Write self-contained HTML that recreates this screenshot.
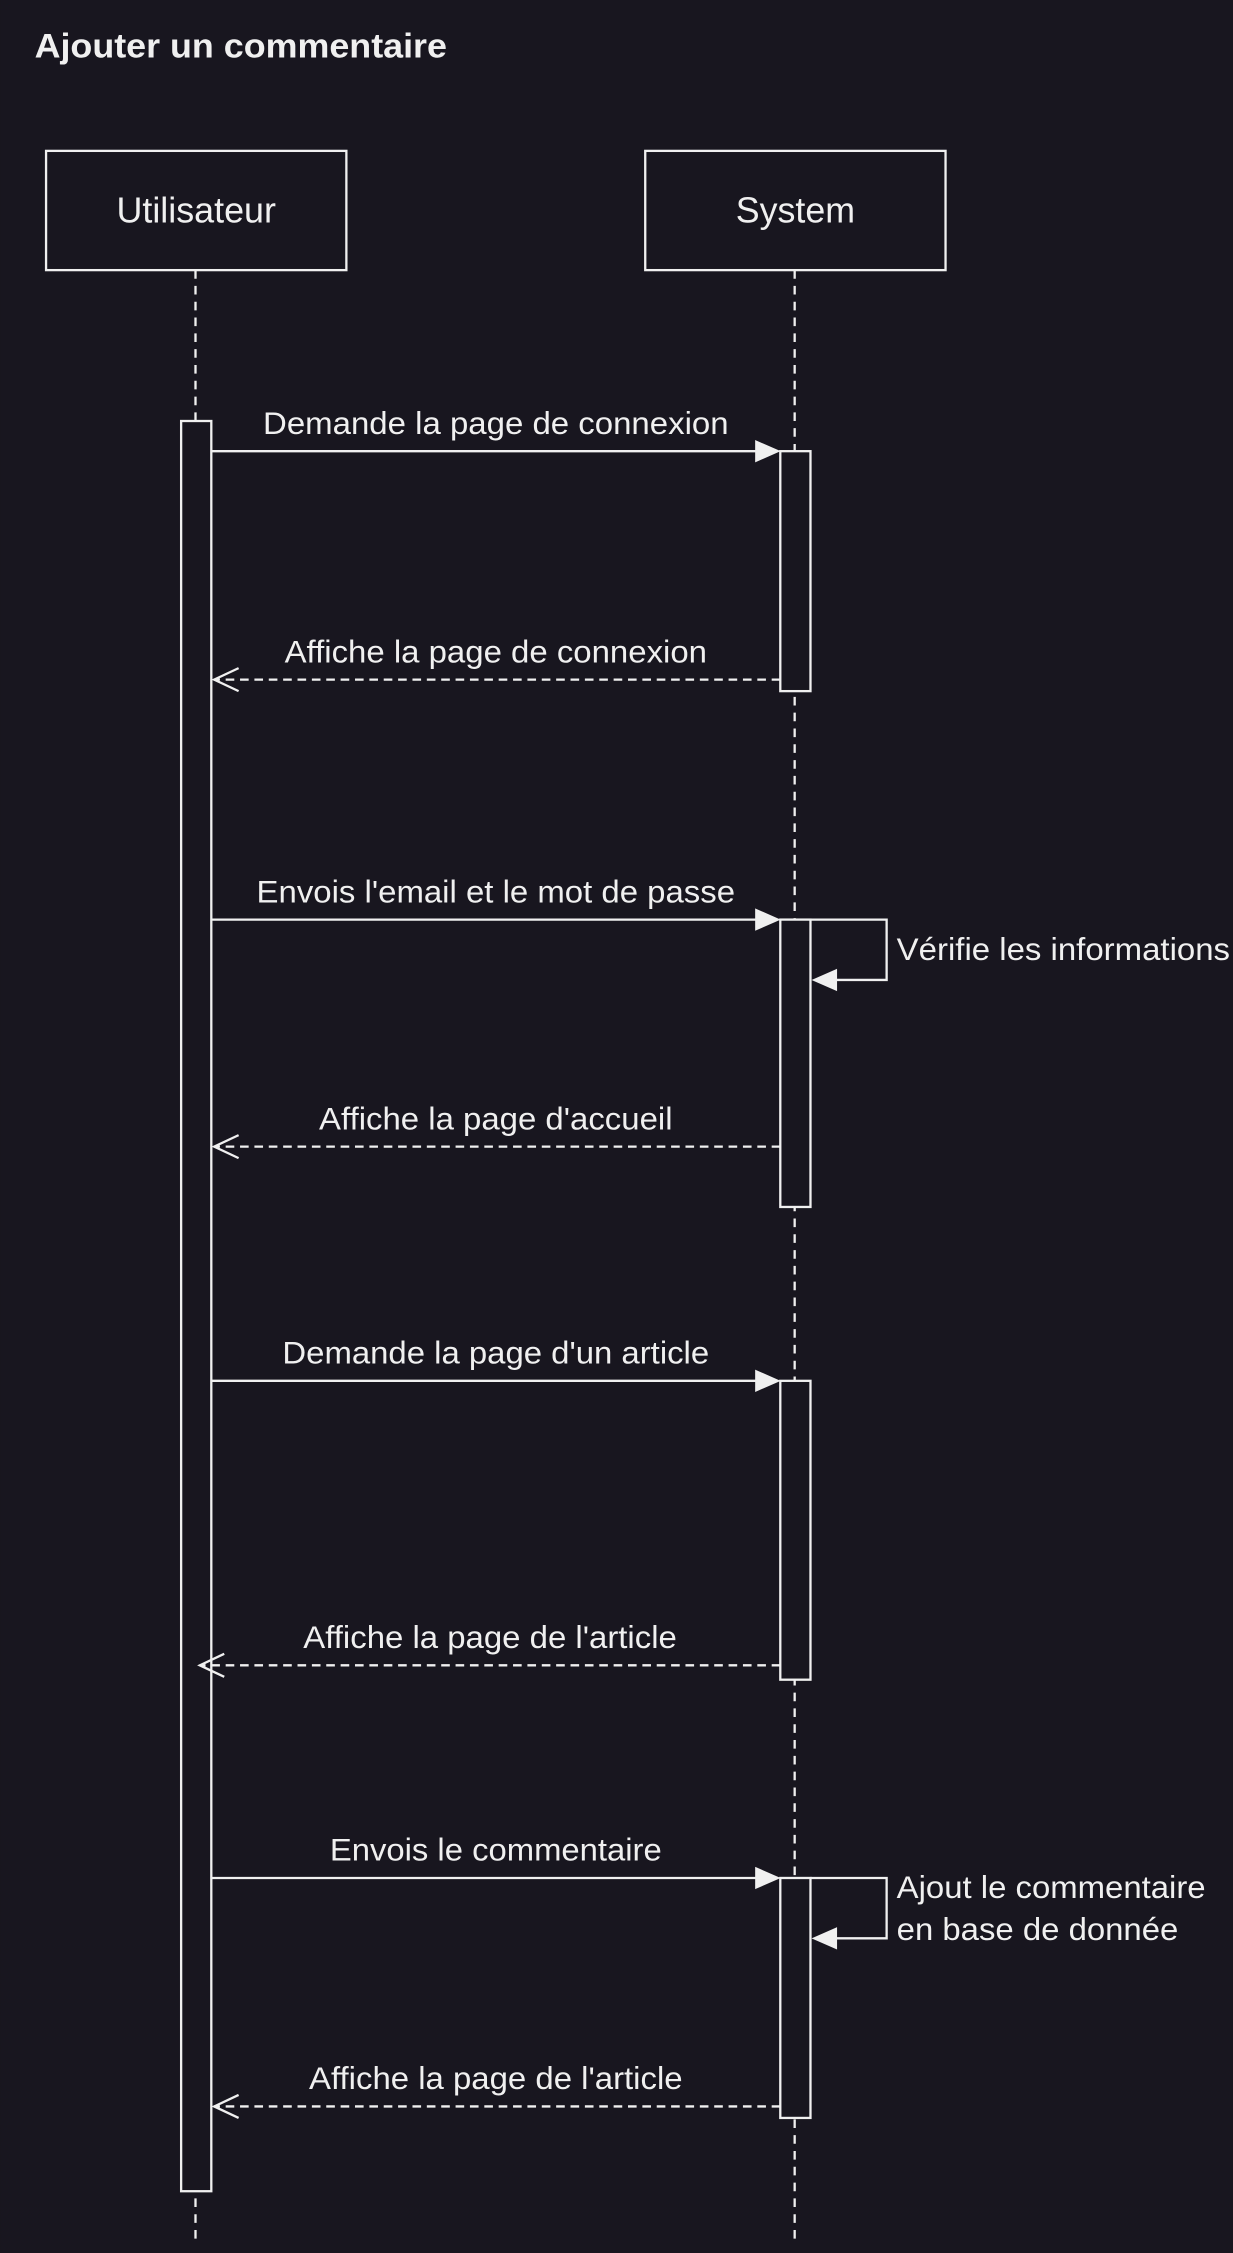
<!DOCTYPE html>
<html><head><meta charset="utf-8"><style>
html,body{margin:0;padding:0;background:#18161f;}
svg{display:block;}
text{font-family:"Liberation Sans",Arial,sans-serif;fill:#f0f0f0;}
</style></head><body>
<svg width="1233" height="2253" viewBox="0 0 858 1568" xmlns="http://www.w3.org/2000/svg">
<rect width="858" height="1568" fill="#18161f"/>
<text x="24" y="40" font-size="24" font-weight="bold" textLength="287" lengthAdjust="spacingAndGlyphs">Ajouter un commentaire</text>
<g stroke="#f0f0f0" stroke-width="1.6" fill="#18161f">
<rect x="32" y="105" width="209" height="83"/>
<rect x="449" y="105" width="209" height="83"/>
<line x1="136" y1="188" x2="136" y2="1562" stroke-dasharray="6 5"/>
<line x1="553" y1="188" x2="553" y2="1562" stroke-dasharray="6 5"/>
<rect x="126" y="293" width="21" height="1232"/>
<rect x="543" y="314" width="21" height="167"/>
<rect x="543" y="640" width="21" height="200"/>
<rect x="543" y="961" width="21" height="208"/>
<rect x="543" y="1307" width="21" height="167"/>
<line x1="147" y1="314" x2="528" y2="314"/>
<line x1="147" y1="640" x2="528" y2="640"/>
<line x1="147" y1="961" x2="528" y2="961"/>
<line x1="147" y1="1307" x2="528" y2="1307"/>
<line x1="543" y1="473" x2="149" y2="473" stroke-dasharray="6 4"/>
<line x1="543" y1="798" x2="149" y2="798" stroke-dasharray="6 4"/>
<line x1="543" y1="1159" x2="139" y2="1159" stroke-dasharray="6 4"/>
<line x1="543" y1="1466" x2="149" y2="1466" stroke-dasharray="6 4"/>
<polyline points="564,640 617,640 617,682 580,682" fill="none"/>
<polyline points="564,1307 617,1307 617,1349 580,1349" fill="none"/>
<polyline points="166,465 149,473 166,481" fill="none"/>
<polyline points="166,790 149,798 166,806" fill="none"/>
<polyline points="156,1151 139,1159 156,1167" fill="none"/>
<polyline points="166,1458 149,1466 166,1474" fill="none"/>
</g>
<g fill="#f0f0f0" stroke="#f0f0f0" stroke-width="1">
<polygon points="526,307 542,314 526,321"/>
<polygon points="526,633 542,640 526,647"/>
<polygon points="526,954 542,961 526,968"/>
<polygon points="526,1300 542,1307 526,1314"/>
<polygon points="582,675 566,682 582,689"/>
<polygon points="582,1342 566,1349 582,1356"/>
</g>
<g font-size="22">
<text x="136.5" y="155" font-size="25" text-anchor="middle" textLength="111" lengthAdjust="spacingAndGlyphs">Utilisateur</text>
<text x="553.5" y="155" font-size="25" text-anchor="middle" textLength="83" lengthAdjust="spacingAndGlyphs">System</text>
<text x="345" y="302" text-anchor="middle" textLength="324" lengthAdjust="spacingAndGlyphs">Demande la page de connexion</text>
<text x="345" y="461" text-anchor="middle" textLength="294" lengthAdjust="spacingAndGlyphs">Affiche la page de connexion</text>
<text x="345" y="628" text-anchor="middle" textLength="333" lengthAdjust="spacingAndGlyphs">Envois l'email et le mot de passe</text>
<text x="624" y="668" textLength="232" lengthAdjust="spacingAndGlyphs">Vérifie les informations</text>
<text x="345" y="786" text-anchor="middle" textLength="246" lengthAdjust="spacingAndGlyphs">Affiche la page d'accueil</text>
<text x="345" y="949" text-anchor="middle" textLength="297" lengthAdjust="spacingAndGlyphs">Demande la page d'un article</text>
<text x="341" y="1147" text-anchor="middle" textLength="260" lengthAdjust="spacingAndGlyphs">Affiche la page de l'article</text>
<text x="345" y="1295" text-anchor="middle" textLength="231" lengthAdjust="spacingAndGlyphs">Envois le commentaire</text>
<text x="624" y="1321" textLength="215" lengthAdjust="spacingAndGlyphs">Ajout le commentaire</text>
<text x="624" y="1350" textLength="196" lengthAdjust="spacingAndGlyphs">en base de donnée</text>
<text x="345" y="1454" text-anchor="middle" textLength="260" lengthAdjust="spacingAndGlyphs">Affiche la page de l'article</text>
</g>
</svg>
</body></html>
